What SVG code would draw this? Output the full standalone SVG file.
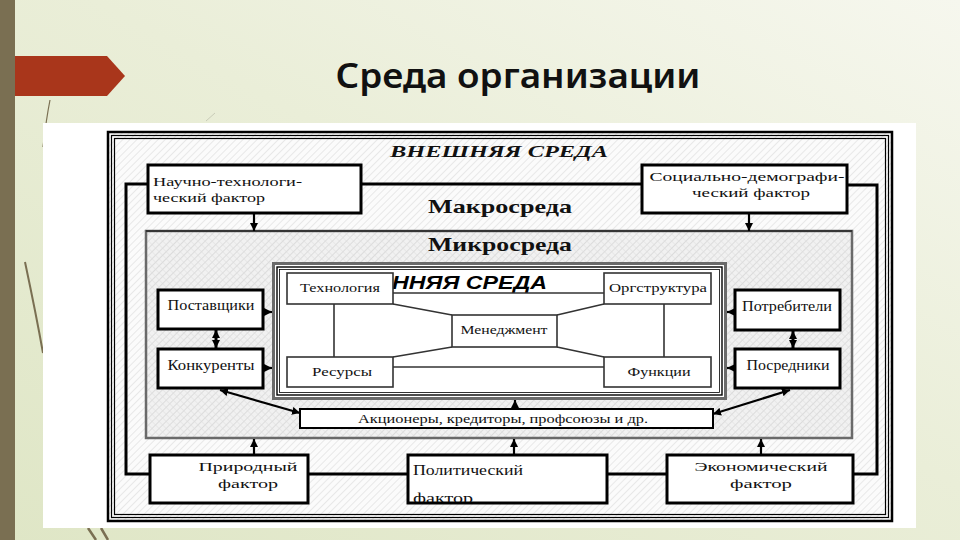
<svg xmlns="http://www.w3.org/2000/svg" width="960" height="540" viewBox="0 0 960 540">
<defs>
<linearGradient id="bg" x1="0" y1="1" x2="1" y2="0">
<stop offset="0" stop-color="#dfe6c6"/>
<stop offset="0.55" stop-color="#eaeed8"/>
<stop offset="1" stop-color="#f6f7ee"/>
</linearGradient>
<pattern id="hatch" width="5" height="5" patternUnits="userSpaceOnUse" patternTransform="rotate(45)">
<rect width="5" height="5" fill="#fbfbfb"/>
<line x1="0" y1="0" x2="0" y2="5" stroke="#dcdcdc" stroke-width="1.2"/>
</pattern>
<pattern id="cross" width="5" height="5" patternUnits="userSpaceOnUse" patternTransform="rotate(45)">
<rect width="5" height="5" fill="#f1f1f1"/>
<line x1="0" y1="0" x2="0" y2="5" stroke="#cfcfcf" stroke-width="1.2"/>
<line x1="0" y1="0" x2="5" y2="0" stroke="#dedede" stroke-width="1"/>
</pattern>
<clipPath id="polclip"><rect x="409" y="456" width="197" height="46"/></clipPath>
<marker id="ah" viewBox="0 0 10 10" refX="10" refY="5" markerWidth="8" markerHeight="8" markerUnits="userSpaceOnUse" orient="auto-start-reverse">
<path d="M0,0 L10,5 L0,10 z" fill="#000"/>
</marker>
</defs>
<style>
.serif{font-family:"Liberation Serif","DejaVu Serif",serif;fill:#111}
.f15{font-size:15px}
.f135{font-size:13.5px}
.f14{font-size:14px}
.f13{font-size:13px}
.big{font-size:19px;font-weight:bold}
.box{fill:#fff;stroke:#000;stroke-width:3}
.ibox{fill:#fff;stroke:#333;stroke-width:1.6}
.thick{fill:none;stroke:#000;stroke-width:3}
.med{fill:none;stroke:#000;stroke-width:2.2}
.thin{fill:none;stroke:#333;stroke-width:1.6}
</style>

<!-- slide background -->
<rect x="0" y="0" width="960" height="540" fill="url(#bg)"/>
<rect x="0" y="0" width="15" height="540" fill="#7a6f52"/>
<path d="M50,100 C47,115 45,130 43,147" fill="none" stroke="#7a6f52" stroke-width="1.2"/>
<path d="M25,262 C32,295 38,325 43,353" fill="none" stroke="#7a6f52" stroke-width="2"/>
<path d="M88,528 L96,540 M101,528 L108,540" fill="none" stroke="#7a6f52" stroke-width="2.5"/>
<path d="M215,113 L206,121" fill="none" stroke="#c9ccb8" stroke-width="1"/>
<path d="M15,56 L107,56 L125,76 L107,96 L15,96 z" fill="#a9361b"/>
<text x="518" y="88" text-anchor="middle" font-family="'Noto Sans','DejaVu Sans',sans-serif" font-size="34" font-weight="600" fill="#111" textLength="365" lengthAdjust="spacingAndGlyphs">Среда организации</text>

<!-- picture panel -->
<rect x="43" y="123" width="873" height="405" fill="#fff"/>

<!-- external environment frame -->
<g id="external">
<rect x="108" y="132" width="784" height="389" fill="url(#hatch)" stroke="#000" stroke-width="2.5"/>
<rect x="111.5" y="135.5" width="777" height="382" fill="none" stroke="#000" stroke-width="1.2"/>
<rect x="114.5" y="138.5" width="771" height="376" fill="none" stroke="#000" stroke-width="1.2"/>
<text x="499" y="157" text-anchor="middle" class="serif" font-size="16" font-weight="bold" font-style="italic" textLength="218" lengthAdjust="spacingAndGlyphs">ВНЕШНЯЯ СРЕДА</text>
<text x="500" y="213" text-anchor="middle" class="serif big" textLength="144" lengthAdjust="spacingAndGlyphs">Макросреда</text>
</g>

<!-- microenvironment -->
<g id="micro">
<rect x="146" y="231" width="706" height="207" fill="url(#cross)" stroke="#6a6a6a" stroke-width="2.5"/>
<line x1="146" y1="231" x2="852" y2="231" stroke="#000" stroke-width="1.2"/>
<text x="500" y="251" text-anchor="middle" class="serif big" textLength="144" lengthAdjust="spacingAndGlyphs">Микросреда</text>
</g>

<!-- connectors -->
<g id="connectors">
<polyline class="thick" points="148,184 126,184 126,474 150,474"/>
<polyline class="thick" points="847,185 877,185 877,474 853,474"/>
<line class="thick" x1="361" y1="184" x2="642" y2="184"/>
<line class="thick" x1="308" y1="474" x2="408" y2="474"/>
<line class="thick" x1="607" y1="474" x2="667" y2="474"/>
<line class="med" x1="254" y1="213" x2="254" y2="231" marker-end="url(#ah)"/>
<line class="med" x1="749" y1="213" x2="749" y2="231" marker-end="url(#ah)"/>
<line class="med" x1="254" y1="455" x2="254" y2="439" marker-end="url(#ah)"/>
<line class="med" x1="514" y1="455" x2="514" y2="439" marker-end="url(#ah)"/>
<line class="med" x1="761" y1="455" x2="761" y2="439" marker-end="url(#ah)"/>
<line class="med" x1="263" y1="312" x2="272" y2="312" marker-end="url(#ah)"/>
<line class="med" x1="263" y1="368" x2="272" y2="368" marker-end="url(#ah)"/>
<line class="med" x1="735" y1="312" x2="727" y2="312" marker-end="url(#ah)"/>
<line class="med" x1="735" y1="368" x2="727" y2="368" marker-end="url(#ah)"/>
<line class="thick" x1="216" y1="330" x2="216" y2="348" marker-start="url(#ah)" marker-end="url(#ah)"/>
<line class="thick" x1="793" y1="331" x2="793" y2="348" marker-start="url(#ah)" marker-end="url(#ah)"/>
<line class="med" x1="220" y1="390" x2="300" y2="413" marker-start="url(#ah)" marker-end="url(#ah)"/>
<line class="med" x1="790" y1="390" x2="713" y2="414" marker-start="url(#ah)" marker-end="url(#ah)"/>
<line class="med" x1="515" y1="409" x2="515" y2="400" marker-end="url(#ah)"/>
</g>

<!-- internal environment -->
<g id="internal">
<rect x="273.5" y="263.5" width="452" height="135" fill="#fff" stroke="#6a6a6a" stroke-width="3"/>
<rect x="277" y="267" width="445" height="128" fill="none" stroke="#000" stroke-width="1.4"/>
<rect x="279.5" y="269.5" width="440" height="123" fill="none" stroke="#000" stroke-width="0.8"/>
<text x="392" y="289" font-family="'Liberation Sans','DejaVu Sans',sans-serif" font-size="18" font-weight="bold" font-style="italic" fill="#000" textLength="155" lengthAdjust="spacingAndGlyphs">ННЯЯ СРЕДА</text>
<g id="internal-links">
<line class="thin" x1="393" y1="293" x2="604" y2="293"/>
<line class="thin" x1="393" y1="367" x2="604" y2="367"/>
<line class="thin" x1="334" y1="304" x2="334" y2="357"/>
<line class="thin" x1="664" y1="304" x2="664" y2="357"/>
<line class="thin" x1="393" y1="304" x2="452" y2="315"/>
<line class="thin" x1="393" y1="357" x2="452" y2="347"/>
<line class="thin" x1="557" y1="315" x2="604" y2="304"/>
<line class="thin" x1="557" y1="347" x2="604" y2="357"/>
</g>
</g>

<g id="tech">
<rect class="ibox" x="287" y="273" width="106" height="31"/>
<text x="340" y="292" text-anchor="middle" class="serif f13" textLength="80" lengthAdjust="spacingAndGlyphs">Технология</text>
</g>
<g id="orgstruct">
<rect class="ibox" x="604" y="273" width="107" height="31"/>
<text x="658" y="292" text-anchor="middle" class="serif f13" textLength="98" lengthAdjust="spacingAndGlyphs">Оргструктура</text>
</g>
<g id="management">
<rect class="ibox" x="452" y="315" width="105" height="32"/>
<text x="504" y="334" text-anchor="middle" class="serif f13" textLength="87" lengthAdjust="spacingAndGlyphs">Менеджмент</text>
</g>
<g id="resources">
<rect class="ibox" x="287" y="357" width="106" height="30"/>
<text x="342" y="376" text-anchor="middle" class="serif f13" textLength="60" lengthAdjust="spacingAndGlyphs">Ресурсы</text>
</g>
<g id="functions">
<rect class="ibox" x="604" y="357" width="107" height="30"/>
<text x="659" y="376" text-anchor="middle" class="serif f13" textLength="63" lengthAdjust="spacingAndGlyphs">Функции</text>
</g>

<g id="suppliers">
<rect class="box" x="158" y="290" width="105" height="39"/>
<text x="211" y="310" text-anchor="middle" class="serif f14" textLength="87" lengthAdjust="spacingAndGlyphs">Поставщики</text>
</g>
<g id="competitors">
<rect class="box" x="158" y="349" width="105" height="39"/>
<text x="211" y="370" text-anchor="middle" class="serif f14" textLength="87" lengthAdjust="spacingAndGlyphs">Конкуренты</text>
</g>
<g id="consumers">
<rect class="box" x="735" y="290" width="105" height="40"/>
<text x="787" y="311" text-anchor="middle" class="serif f14" textLength="90" lengthAdjust="spacingAndGlyphs">Потребители</text>
</g>
<g id="intermediaries">
<rect class="box" x="735" y="349" width="105" height="39"/>
<text x="788" y="370" text-anchor="middle" class="serif f14" textLength="83" lengthAdjust="spacingAndGlyphs">Посредники</text>
</g>
<g id="stakeholders">
<rect x="300" y="409" width="413" height="19" fill="#fff" stroke="#000" stroke-width="2"/>
<text x="503" y="423" text-anchor="middle" class="serif f13" textLength="290" lengthAdjust="spacingAndGlyphs">Акционеры, кредиторы, профсоюзы и др.</text>
</g>

<g id="scitech">
<rect class="box" x="148" y="165" width="213" height="48"/>
<text x="153" y="186" class="serif f135" textLength="149" lengthAdjust="spacingAndGlyphs">Научно-технологи-</text>
<text x="153" y="202" class="serif f135" textLength="112" lengthAdjust="spacingAndGlyphs">ческий фактор</text>
</g>
<g id="sociodemo">
<rect class="box" x="642" y="165" width="205" height="48"/>
<text x="747" y="181" text-anchor="middle" class="serif f135" textLength="195" lengthAdjust="spacingAndGlyphs">Социально-демографи-</text>
<text x="751" y="197" text-anchor="middle" class="serif f135" textLength="118" lengthAdjust="spacingAndGlyphs">ческий фактор</text>
</g>
<g id="natural">
<rect class="box" x="150" y="455" width="158" height="48"/>
<text x="248" y="471" text-anchor="middle" class="serif f135" textLength="99" lengthAdjust="spacingAndGlyphs">Природный</text>
<text x="248" y="488" text-anchor="middle" class="serif f135" textLength="60" lengthAdjust="spacingAndGlyphs">фактор</text>
</g>
<g id="political">
<rect class="box" x="408" y="455" width="199" height="48"/>
<text x="413" y="475" class="serif f15" textLength="110" lengthAdjust="spacingAndGlyphs">Политический</text>
<text x="413" y="503" class="serif f15" clip-path="url(#polclip)" textLength="60" lengthAdjust="spacingAndGlyphs">фактор</text>
</g>
<g id="economic">
<rect class="box" x="667" y="455" width="186" height="48"/>
<text x="761" y="471" text-anchor="middle" class="serif f135" textLength="133" lengthAdjust="spacingAndGlyphs">Экономический</text>
<text x="761" y="488" text-anchor="middle" class="serif f135" textLength="62" lengthAdjust="spacingAndGlyphs">фактор</text>
</g>
</svg>
